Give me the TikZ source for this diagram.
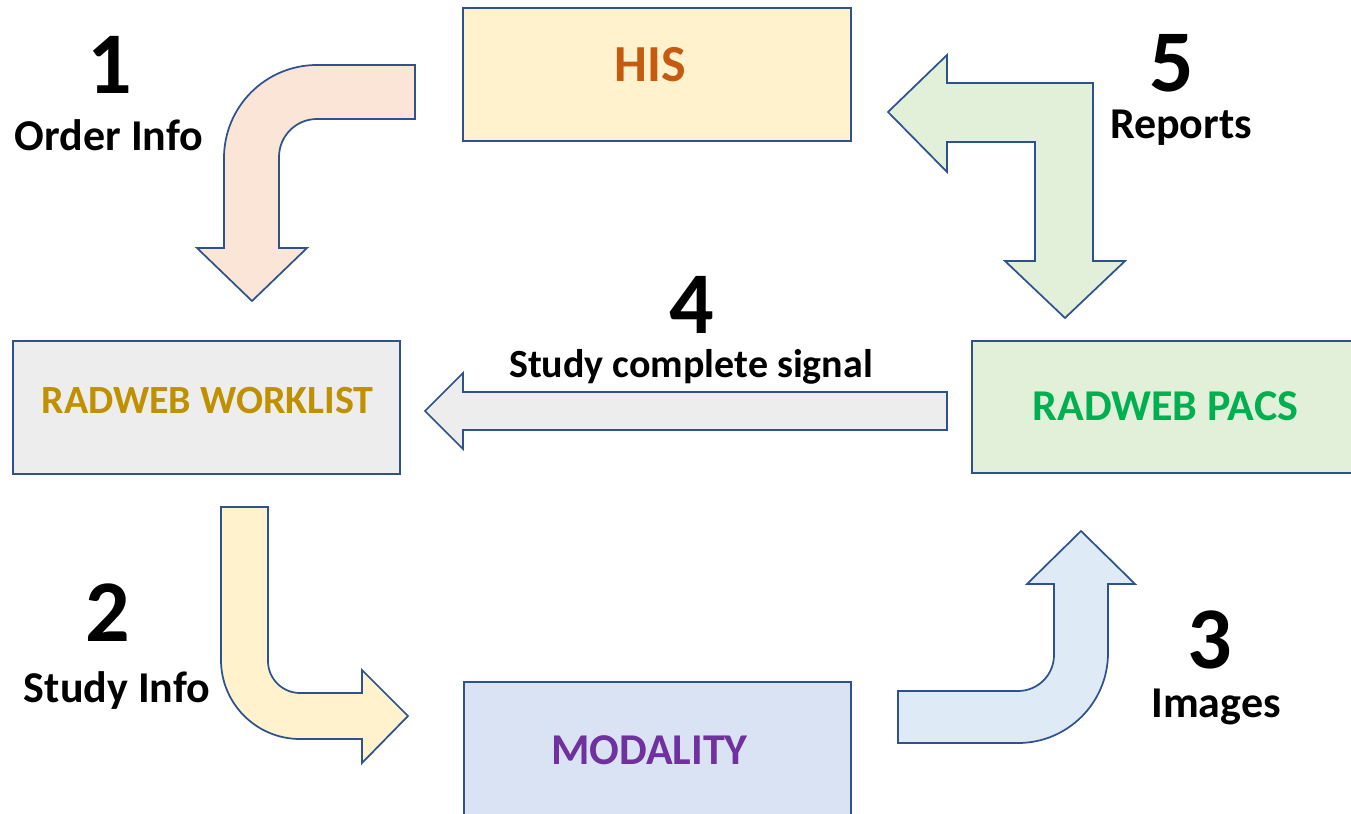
\documentclass[tikz,border=0pt]{standalone}
\usepackage{fontspec}
\setmainfont{Carlito}
\begin{document}
\begin{tikzpicture}[x=0.75pt,y=0.75pt,yscale=-1,xscale=1,
  shp/.style={draw={rgb, 255:red, 47; green, 82; blue, 143 }, line width=1.3pt, line join=miter},
  txt/.style={anchor=base, inner sep=0pt},
  num/.style={txt, font=\fontsize{66}{70}\selectfont\bfseries},
  lbl/.style={txt, font=\fontsize{33}{38}\selectfont\bfseries}]
\useasboundingbox (0,0) rectangle (1351,813);

%Shape: Rectangle [HIS]
\draw [shp, fill={rgb, 255:red, 255; green, 242; blue, 204 }] (463,8) -- (851,8) -- (851,141) -- (463,141) -- cycle ;
%Shape: Rectangle [RADWEB WORKLIST]
\draw [shp, fill={rgb, 255:red, 237; green, 237; blue, 237 }] (13,341) -- (400,341) -- (400,474) -- (13,474) -- cycle ;
%Shape: Rectangle [RADWEB PACS]
\draw [shp, fill={rgb, 255:red, 226; green, 239; blue, 217 }] (972,341) -- (1362,341) -- (1362,473) -- (972,473) -- cycle ;
%Shape: Rectangle [MODALITY]
\draw [shp, fill={rgb, 255:red, 218; green, 227; blue, 243 }] (464,682) -- (851,682) -- (851,818) -- (464,818) -- cycle ;

%Shape: Bent Arrow [1]
\draw [shp, fill={rgb, 255:red, 251; green, 229; blue, 214 }] (415,65) -- (317,65) .. controls (265.6,65) and (224,106.6) .. (224,158) -- (224,248) -- (197,248) -- (252,301) -- (307,248) -- (279,248) -- (279,157) .. controls (279,136) and (296,119) .. (317,119) -- (415,119) -- cycle ;
%Shape: Bent Arrow [2]
\draw [shp, fill={rgb, 255:red, 255; green, 242; blue, 204 }] (221,507) -- (221,660) .. controls (221,703.6) and (256.4,739) .. (300,739) -- (362,739) -- (362,763) -- (408,716) -- (362,670) -- (362,693) -- (300,693) .. controls (282.3,693) and (268,678.7) .. (268,661) -- (268,507) -- cycle ;
%Shape: Bent Arrow [3]
\draw [shp, fill={rgb, 255:red, 222; green, 235; blue, 247 }] (898,691) -- (1018,691) .. controls (1037.9,691) and (1054,674.9) .. (1054,655) -- (1054,584) -- (1027,584) -- (1081,531) -- (1135,584) -- (1108,584) -- (1108,653) .. controls (1108,702.7) and (1067.7,743) .. (1018,743) -- (898,743) -- cycle ;
%Shape: Left Arrow [4]
\draw [shp, fill={rgb, 255:red, 237; green, 237; blue, 237 }] (947,392) -- (463,392) -- (463,373) -- (425,411) -- (463,449) -- (463,430) -- (947,430) -- cycle ;
%Shape: Bent Arrow [5]
\draw [shp, fill={rgb, 255:red, 226; green, 239; blue, 217 }] (947,83) -- (947,55) -- (888,112) -- (947,172) -- (947,142) -- (1035,142) -- (1035,261) -- (1005,261) -- (1065,318) -- (1125,261) -- (1093,261) -- (1093,83) -- cycle ;

% Text Node
\draw (650,82) node [txt, font=\fontsize{39}{46}\selectfont\bfseries, text={rgb, 255:red, 197; green, 90; blue, 17 }] (his) {HIS};
% Text Node
\draw (207.5,413) node [txt, font=\fontsize{30}{36}\selectfont\bfseries, text={rgb, 255:red, 191; green, 144; blue, 0 }] (worklist) {RADWEB WORKLIST};
% Text Node
\draw (1165.5,420) node [txt, font=\fontsize{33}{39}\selectfont\bfseries, text={rgb, 255:red, 0; green, 176; blue, 80 }] (pacs) {RADWEB PACS};
% Text Node
\draw (649.5,764) node [txt, font=\fontsize{33}{39}\selectfont\bfseries, text={rgb, 255:red, 112; green, 48; blue, 160 }] (modality) {MODALITY};

% Text Node
\draw (110,94) node [num] (n1) {1};
% Text Node
\draw (109,151) node [lbl] (order) {Order Info};
% Text Node
\draw (108,641) node [num] (n2) {2};
% Text Node
\draw (117,702) node [lbl] (study) {Study Info};
% Text Node
\draw (1210,668) node [num] (n3) {3};
% Text Node
\draw (1216,717) node [lbl] (images) {Images};
% Text Node
\draw (692,333) node [num] (n4) {4};
% Text Node
\draw (691,377) node [txt, font=\fontsize{30}{36}\selectfont\bfseries] (signal) {Study complete signal};
% Text Node
\draw (1172,92) node [num] (n5) {5};
% Text Node
\draw (1181,138) node [lbl] (reports) {Reports};

\end{tikzpicture}
\end{document}
